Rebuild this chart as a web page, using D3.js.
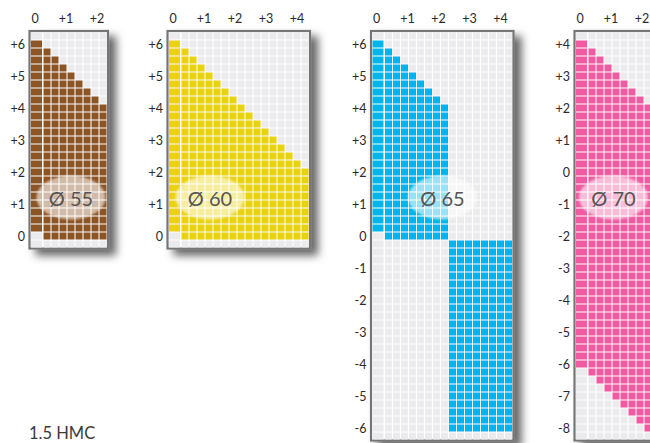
<!DOCTYPE html>
<html>
<head>
<meta charset="utf-8">
<script src="https://cdn.jsdelivr.net/npm/d3@7"></script>
<style>
  html, body { margin: 0; padding: 0; background: #fff; }
  svg { display: block; font-family: Lato, "Open Sans", "DejaVu Sans", sans-serif; }
</style>
</head>
<body>
<script>
// ---------- DATA ----------
const diameters = [55, 60, 65, 70];
const seriesColors = ["#8b5526", "#ead20f", "#00b5ea", "#ef5aa0"];
const footnote = "1.5 HMC";

// cylinder columns (0.25 steps) per diameter
const cyl55 = [0, 0.25, 0.5, 0.75, 1, 1.25, 1.5, 1.75, 2];
const cyl60 = [0, 0.25, 0.5, 0.75, 1, 1.25, 1.5, 1.75, 2, 2.25, 2.5, 2.75, 3, 3.25, 3.5, 3.75, 4];
const cyl65 = [0, 0.25, 0.5, 0.75, 1, 1.25, 1.5, 1.75, 2, 2.25, 2.5, 2.75, 3, 3.25, 3.5, 3.75, 4];
const cyl70 = [0, 0.25, 0.5, 0.75, 1, 1.25, 1.5, 1.75, 2];

// grid sphere range (top / bottom row) per diameter
const gridTop = [6.25, 6.25, 6.25, 4.25];
const gridBottom = [-0.25, -0.25, -6.25, -8.25];

// available sphere range per cylinder column
const sphMax55 = [6, 5.75, 5.5, 5.25, 5, 4.75, 4.5, 4.25, 4];
const sphMin55 = [0.25, 0, 0, 0, 0, 0, 0, 0, 0];
const sphMax60 = [6, 5.75, 5.5, 5.25, 5, 4.75, 4.5, 4.25, 4, 3.75, 3.5, 3.25, 3, 2.75, 2.5, 2.25, 2];
const sphMin60 = [0.25, 0, 0, 0, 0, 0, 0, 0, 0, 0, 0, 0, 0, 0, 0, 0, 0];
const sphMax65 = [6, 5.75, 5.5, 5.25, 5, 4.75, 4.5, 4.25, 4, -0.25, -0.25, -0.25, -0.25, -0.25, -0.25, -0.25, -0.25];
const sphMin65 = [0.25, 0, 0, 0, 0, 0, 0, 0, 0, -6, -6, -6, -6, -6, -6, -6, -6];
const sphMax70 = [4, 3.75, 3.5, 3.25, 3, 2.75, 2.5, 2.25, 2];
const sphMin70 = [-6, -6.25, -6.5, -6.75, -7, -7.25, -7.5, -7.75, -8];

// tick labels
const xTicks55 = [0, 1, 2];
const xTicks60 = [0, 1, 2, 3, 4];
const xTicks65 = [0, 1, 2, 3, 4];
const xTicks70 = [0, 1, 2];
const yTicks55 = [6, 5, 4, 3, 2, 1, 0];
const yTicks60 = [6, 5, 4, 3, 2, 1, 0];
const yTicks65 = [6, 5, 4, 3, 2, 1, 0, -1, -2, -3, -4, -5, -6];
const yTicks70 = [4, 3, 2, 1, 0, -1, -2, -3, -4, -5, -6, -7, -8];

const panels = [
  { cyl: cyl55, max: sphMax55, min: sphMin55, xt: xTicks55, yt: yTicks55 },
  { cyl: cyl60, max: sphMax60, min: sphMin60, xt: xTicks60, yt: yTicks60 },
  { cyl: cyl65, max: sphMax65, min: sphMin65, xt: xTicks65, yt: yTicks65 },
  { cyl: cyl70, max: sphMax70, min: sphMin70, xt: xTicks70, yt: yTicks70 }
].map((p, i) => Object.assign(p, { dia: diameters[i], color: seriesColors[i], top: gridTop[i], bottom: gridBottom[i] }));

// ---------- LAYOUT ----------
const W = 650, H = 443;
const panelLeft = [31, 169, 372.5, 576];
const badgeDx = [40, 41, 70, 37.5];
const T = 32;          // top of inner grid
const pitch = 8, cell = 7, col0W = 11;
const grey = "#ebebed";

const svg = d3.select("body").append("svg").attr("width", W).attr("height", H);
const defs = svg.append("defs");
const sh = defs.append("filter").attr("id", "shadow").attr("x", "-30%").attr("y", "-10%").attr("width", "160%").attr("height", "130%");
sh.append("feDropShadow").attr("dx", 7).attr("dy", 6).attr("stdDeviation", 4.5)
  .attr("flood-color", "#000").attr("flood-opacity", 0.6);
const bl = defs.append("filter").attr("id", "soft").attr("x", "-20%").attr("y", "-20%").attr("width", "140%").attr("height", "140%");
bl.append("feGaussianBlur").attr("stdDeviation", 1.2);

const fmt = d => d > 0 ? "+" + d : (d === 0 ? "0" : "-" + Math.abs(d));

panels.forEach((p, i) => {
  const L = panelLeft[i];
  const nRows = Math.round((p.top - p.bottom) / 0.25) + 1;
  const sphRows = d3.range(nRows).map(k => p.top - 0.25 * k);
  const cMax = d3.max(p.cyl);

  const y = d3.scaleLinear().domain([p.top, p.bottom]).range([T + 0.5, T + 0.5 + pitch * (nRows - 1)]);
  const x = d3.scaleLinear().domain([0.25, cMax]).range([L + 12.5, L + 12.5 + pitch * (p.cyl.length - 2)]);
  const cx = c => c === 0 ? L : x(c);
  const cw = c => c === 0 ? col0W : cell;
  const xLab = d3.scaleLinear().domain([0, 4]).range([L + 4, L + 4 + 4 * 31]);

  const g = svg.append("g");
  const lastRight = x(cMax) + cell;
  const lastBottom = y(p.bottom) + cell;

  // frame with shadow
  g.append("rect")
    .attr("x", L - 1.5).attr("y", T - 1)
    .attr("width", lastRight + 1.5 - (L - 1.5)).attr("height", lastBottom + 1 - (T - 1))
    .attr("fill", "#fff").attr("stroke", "#767676").attr("stroke-width", 2.2)
    .attr("filter", "url(#shadow)");

  // cells
  const cells = [];
  p.cyl.forEach((c, ci) => sphRows.forEach(s => {
    cells.push({ c, s, on: s <= p.max[ci] && s >= p.min[ci] });
  }));
  g.append("g").selectAll("rect").data(cells).join("rect")
    .attr("x", d => cx(d.c)).attr("y", d => y(d.s))
    .attr("width", d => cw(d.c)).attr("height", cell)
    .attr("fill", d => d.on ? p.color : grey);

  // x labels
  g.append("g").selectAll("text").data(p.xt).join("text")
    .attr("x", d => xLab(d)).attr("y", 23)
    .attr("text-anchor", "middle").attr("font-size", 12.5).attr("fill", "#2a2a2a")
    .text(fmt);

  // y labels
  g.append("g").selectAll("text").data(p.yt).join("text")
    .attr("x", L - 6).attr("y", d => y(d) + cell / 2)
    .attr("dominant-baseline", "central")
    .attr("text-anchor", "end").attr("font-size", 12.5).attr("fill", "#2a2a2a")
    .text(fmt);

  // diameter badge
  const bx = L + badgeDx[i], by = 197.5;
  g.append("ellipse").attr("cx", bx).attr("cy", by).attr("rx", 34.5).attr("ry", 22)
    .attr("fill", "#fff").attr("fill-opacity", 0.6).attr("filter", "url(#soft)");
  g.append("text").attr("x", bx).attr("y", by)
    .attr("text-anchor", "middle").attr("dominant-baseline", "central")
    .attr("font-size", 20).attr("font-weight", 400).attr("fill", "#555")
    .text("Ø " + p.dia);
});

svg.append("text").attr("x", 29).attr("y", 439)
  .attr("font-size", 16.5).attr("fill", "#3a3a3a").text(footnote);
</script>
</body>
</html>
